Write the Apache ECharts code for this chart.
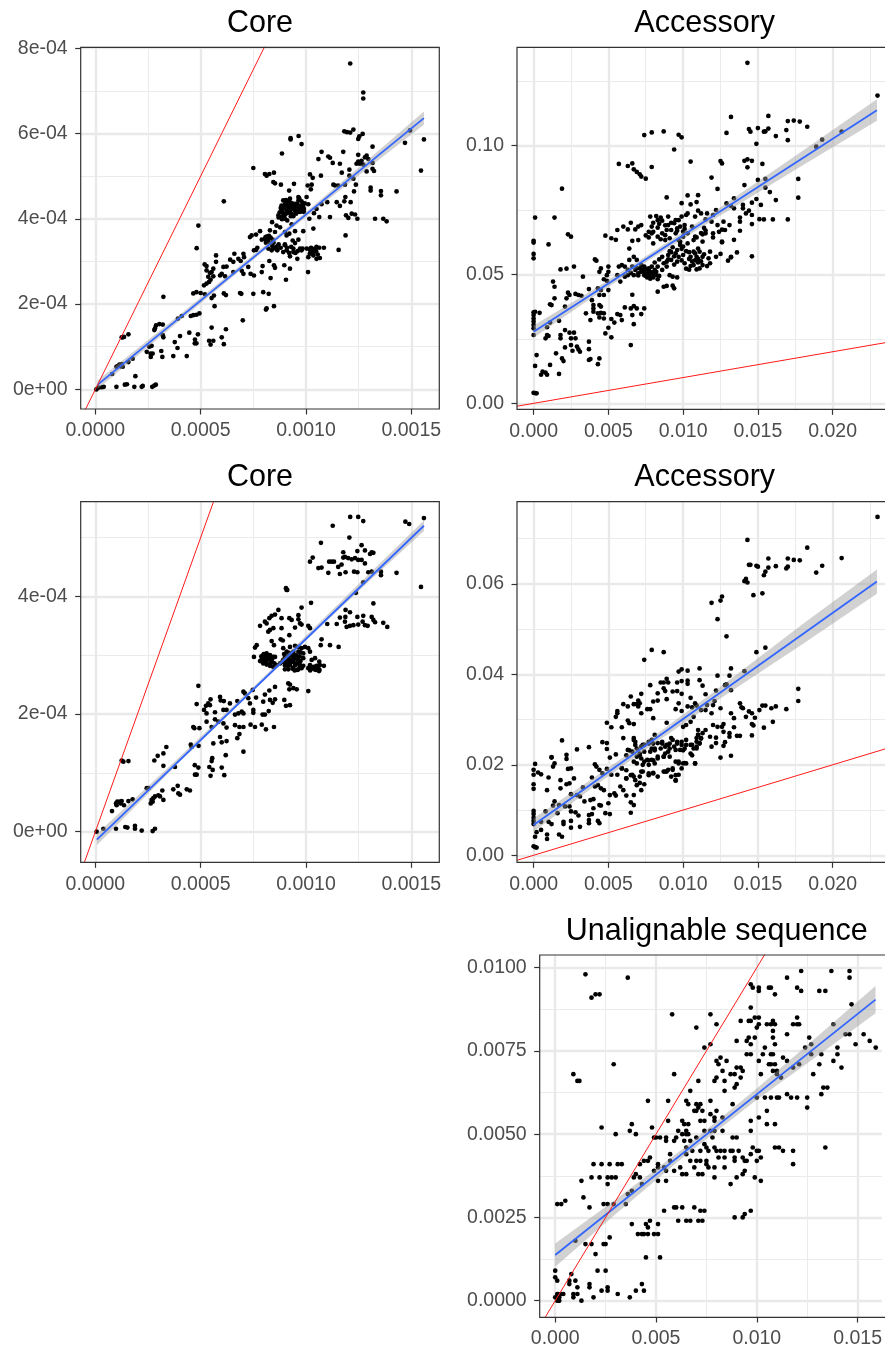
<!DOCTYPE html>
<html><head><meta charset="utf-8">
<style>html,body{margin:0;padding:0;background:#fff}#c{width:885px;height:1349px}</style>
<script src="https://cdn.jsdelivr.net/npm/echarts@6/dist/echarts.min.js"></script>
</head><body><div id="c"></div>
<script>
// Points in scaled units: core x,y in 1e-5; accessory in 1e-3; unalignable x in 1e-3, y in 1e-4
const corePointsA=[[121,76.4],[127.2,69.6],[127.2,68.2],[96.5,59.4],[92.7,58.9],[92.7,58.6],[97.9,57.5],[88.6,55.3],[75,51.9],[118.2,60.5],[119.5,60.3],[121,60.2],[122.5,60.9],[126.9,59.9],[125.3,59.3],[124.8,58.7],[131.6,56.9],[117.7,55.7],[107.4,55.7],[105.9,54],[110.6,54.6],[111.4,54.3],[112.7,53.1],[116.1,52.9],[120.6,51.5],[117,50.8],[107.1,50.1],[101.9,50.4],[103.2,49.6],[124.8,55],[128.8,54.8],
[.5,0],[1.5,.4],[3,.5],[4,.6],[10,.6],[14,1.1],[15,1.2],[18.5,.6],[19,3.1],[22,.6],[22.5,.8],[27,.6],[28,.9],[28.7,1.1],[8,3.6],[10,5.3],[10.5,5.4],[11.4,5.8],[12.5,5.9],[12,5.4],[13,5.3],[15.7,6.4],[17.7,7.2],[12.5,12.2],[13,12.2],[13.6,12.3],[15.7,12.9],
[24.4,8.8],[26.3,7.6],[27.2,8.4],[26.2,8.4],[25.6,10],[26.7,10.2],[31.3,9],[31.8,7.6],[37,7.8],[39,9.7],[37.7,11.1],[40.2,12.5],[44.6,13.3],[43.4,7.8],[47.3,11.7],[47.2,10.8],[48,10.8],[48.7,12.9],[28,13.9],[28.8,15],[28.3,14.3],[30.4,15.3],[32,15.2],[32.3,21.7],[32,12.7],[32.3,12.2],[39.2,16.6],[41,17.2],[45.3,17.2],[46.5,17.4],[48,17.5],[49.4,17.8],[54,11.4],[54.7,10.5],[56,11.4],[60,12.2],[61,10.6],[62,14.1],[55.2,14.5],[70,16.2],[56.6,19.5],[46.5,22.5],[48,22.8],[50,22.6],[52,22.3],[56.3,22],[55.2,21.4],[61,22.5],[62,22.1],[68.7,22.6],[69.3,22.4],[75,22.4],[79.7,22.8],[82.3,22.4],[81,18.7],[81.3,19],[84.8,19.5],
[51.6,24.4],[52.8,24.8],[54,25.2],[53.6,26.4],[52.8,27.9],[54.4,27.3],[51.9,29.3],[52.8,28.9],[55.2,27.5],[56,28.3],[57.3,29.9],[57.3,31.4],[59.2,26.7],[60,27.1],[60.8,28.7],[62.3,28.8],[61.6,26.5],[56,26.5],[54.7,25.7],[64,30.4],[66,31.8],[65.5,29.9],[67.9,30.6],[69,30.1],[70.3,31.8],[70.6,31],[69.5,27.8],[70.3,27.1],[65.5,27.5],[73.7,27.1],[75.3,26.7],[72.6,28.7],[79,27.5],[79.4,28.9],[84.8,29.1],[85.3,28.5],[83.2,26.1],[90.5,25.7],[89.7,29.1],[92.4,28.3],[101,27.5],[82.6,30.1],
[75.3,32.6],[76.3,32.7],[76.9,33.2],[73.4,35.7],[74.2,36.1],[76.3,36.3],[78.2,37.1],[48.9,38.4],[48.1,33.1],[61,44.1],[79,35.1],[80.5,35.3],[82.1,35.3],[83.2,35.6],[84.2,35.1],[81.3,34.9],[82.9,37.3],[83.9,39.2],[85.3,36.9],[84.5,33],[82.1,33],[86,33.4],[83.7,32.6],[86,38.4],[87.7,38],[86.4,32.6],[89.2,32.2],[90,33.8],[90.8,32.6],[92.4,31.2],[95.9,30.6],[94,32.2],[97.2,33],[98.4,33],[97.9,32.6],[101.1,31],[103.5,31.4],[105,30.6],[106.6,30.8],[101.9,32.7],[103.2,32.4],[104.3,33],[105,33.4],[106.3,33.2],[108.5,33.2],[115.5,32.7],[103.5,37.7],[90.8,36.1],[92.1,36.5],[90,36.9],[94.8,37.1],[98.7,37.1],[96.4,35.1],[93.7,34.9],[94.8,34.3],[93.2,38.7],
[89.2,44.3],[92,46.6],[90.5,44.4],[92.4,44.7],[94.8,43.5],[96.4,45.1],[96.4,44.3],[97.9,44.1],[94,43.1],[91.6,42.7],[92.4,41.9],[94.8,41.9],[96.4,42.3],[97.9,41.9],[99,42.3],[99,41.6],[90.8,41.9],[89.2,41.2],[86.9,40.8],[88.1,40.4],[90,40],[91.1,39.6],[88.4,43.1],[93.2,41.2],[97.2,41.6],[95.3,41.2],[101.1,43.4],[100.3,45.1],[100.8,47.8],[102.3,46.9],[102.7,48],[94.3,48.2],[88.1,48],[80.5,50.5],[82.6,50.5],[81.3,50.1],[84.8,50.8],[84.5,48.6],[85.3,48.3],
[113,48],[113.8,47.8],[118.5,48],[115.3,47.8],[122.5,49.4],[120.6,50.1],[123.7,48],[122.8,46.4],[118.7,45.1],[121.2,43.9],[118.2,44.1],[114.6,43.9],[116.1,43],[110.1,43.9],[107.4,43.4],[105,42.3],[103.8,41.3],[101.6,40],[106.3,40.4],[111.4,40.4],[119,40.8],[120.1,40.2],[121.7,41.2],[123.3,41],[124.4,40],[132.8,40],[136.7,40],[138.3,39.4],[118.8,36.1],[130.7,47.3],[130.7,46.6],[135.6,46.5],[135.6,45.5],[143,46.4],[147,57.8],[149.4,60.7],[156,58.6],[154.6,51.3],[124,52.9],[125.6,52.9],[127.2,52.7],[126.4,53.6],[128,54.4],[129.6,54],[131.6,53.1],[128.8,51.1],[131.6,51.7],[132.3,51.2],[124.8,53.4],
[87.5,41.5],[88,42.5],[88.8,41.8],[89.6,42.6],[90,43.4],[90.4,42.9],[91,43.9],[91.6,44.1],[92,43.4],[92.6,43.8],[93,42.8],[93.4,43.6],[93.6,42.4],[94.4,42.5],[95,42.9],[95.8,43.5],[96,41.6],[97,43],[97.6,42.6],[98.2,43.2],[98.6,42.9],[90.2,41],[91.4,41.4],[92.8,40.6],[87,40.3],[88.6,39.9],[89.6,40.7],[94,40.6],[96.8,44.8],[99.4,43.6],[80.8,35.7],[81.6,35.9],[82.4,36],[81,34.4],[82.2,34.6],[83.4,34.2],[84,33.6],[84.6,34.4],[85.4,33.2],[86.2,32.8],[87,34],[88,33.2],[90,34],[91,33.2],[92,32],[93,33.4],[94,33],[95,32],[96,32.4],[100.4,33],[102.4,33.2],[103.8,32.2],[104.8,32.4],[105.6,31.6],[101.8,31.8]];
const accessoryPointsA=[[14.3,132],[23,119.3],[13.2,111],[15.7,111.4],[17,109.4],[17.4,109.6],[17.8,109.2],[18.3,107.2],[16.9,105.9],[17,102],[14.4,106.3],[14.5,105.3],[15,106.7],[15.4,105.3],[15.5,105.4],[15.7,106.5],[16.2,103.6],[14.9,100.6],[12.9,104.8],[20.6,105.3],[19.3,102.2],[18.9,99.5],[7.4,104],[7.9,105],[8.7,105.4],[9.7,104.1],[9.9,103.1],[9.4,98.4],[10.5,93.7],[12.5,93.9],[12.6,93],[14.1,94],[14.3,94.6],[14.6,94],[14.3,91.5],[15.3,92.8],[15,86.6],[15.5,87],[11.9,87.5],[14.1,84.6],[12.3,83.1],[15.5,83.6],[15.8,81.9],[17.7,87],[17.7,79.7],[16.2,78.8],[14.9,79.2],[15.2,76.9],[14.6,77.8],[13.4,79.5],[12.9,77.5],[13.2,76.5],[14,76.9],[14,75.6],[13.4,75.6],[14.4,74.7],[14.2,73.6],[14.6,73],[15.1,71.4],[15.4,71.3],[16,71.3],[17,71.3],[14.6,69.5],[13.8,72],[13.8,70.4],[13.8,66.9],[13.4,63.4],[13.6,58.5],[14.6,57],[13.2,56.6],[13,55.3],[13.2,56.8],[12.5,57.9],[12.2,56.8],[12.6,62.7],
[5.7,92.8],[6.3,92],[6.6,93],[6.7,90.7],[6.9,89.7],[7.1,88.8],[7.2,87.9],[7.5,87.1],[7.9,91.6],[8.9,79.8],[9.9,77.6],[10.3,80.6],[11,80.7],[10.5,77.1],[10.9,78],[10.3,73.6],[11,74.7],[11.2,73.6],[10.8,72.4],[11.6,73.6],[12.2,74.9],[12,73],[11.5,71.3],[11.9,70.4],[12.3,69.1],[12.7,70.4],[13.1,69.1],[12.8,67.2],[12,65.9],[12.6,62.4],[11.5,65.9],[10.8,64.6],
[1.9,83.2],[1.4,72],[.1,72],[1,61.6],[2.3,65.5],[2.5,64.6],[0,63],[0,62.3],[0,57.9],[0,56.2],[1.8,51.9],[2.2,52.2],[2.7,53],[3.3,49.1],[1.3,47.2],[1.4,45.2],[1.4,40.7],[1.1,38.4],[1.2,38.1],[2.3,42.9],[2.4,42],[2.8,42.4],[3,42],[3.2,41.7],[2.2,40.7],[2.1,37.5],[3.7,44.3],[3.9,40],[4.1,55.8],[4.2,55.3],[4.8,65],[5.2,64],[5.5,63.4],[5.6,67.2],[6,68.5],[6.5,70],[6.3,67.4],[6.8,67.4],[7,68.5],[7.2,69.1],[6.6,63],[7,63.3],[6.4,60],[7.8,72.4],[8.2,72.6],[8.5,72],[8.3,71],[8.6,70.8],[9,72.4],[9.4,69.8],[9,69.1],[9.7,71],[9.9,72.4],[10.2,73],[7.9,68.5],[8.3,68.1],[7.7,66.5],[7.9,65.9],[8.6,65.9],[8.9,67.2],[9.2,67.2],[9.6,67.8],[9.8,68.5],[10.1,69.1],[10.6,68.5],[7.7,64.3],[8,62],[8.5,63.6],[8.8,63.3],[9.1,64],[9.5,65.9],[9.7,63.3],[10,64.6],[10.3,65.9],[10.7,63.3],[10.9,64.3],[9.8,61.4],[9.6,59.4],[10.3,62],[11,60],[11.3,62.7],[11.8,58.8],[11.3,56.8],[11.7,56.2],[11.8,54.3],[11.1,58.8],[10.8,58.1],[10.9,56.8],[10.5,56.8],[10,57.5],[9.7,56.8],[9.5,58.1],[9,57.5],[8.6,56.8],[8.9,54.9],[9.2,55.6],[9.6,54.9],[10.1,54.3],[10.5,53.2],[10.7,53.6],[10.9,51.9],[11.1,52.3],[11.3,53.6],
[7.2,53.6],[7.4,53],[7.7,52.3],[7.9,53],[8.1,51.7],[7.8,51],[7.2,51],[7.4,49.7],[7.7,49.1],[8,49.7],[8.2,51],[8.3,48.1],[7,50.4],[6.8,51.7],[6.4,55.6],[6.7,56.8],[6.9,55.6],[6.6,53],[6.3,51.7],[6.1,49.1],[6.3,49.7],[6.7,49.7],[5.7,53],[5.9,53.6],[6.1,53],[5.6,49.7],[5.8,47.2],[5,53],[4.5,52.3],[4.4,51],[5,51],[4.9,49.7],[4.7,48.1],[4.9,47.5],[4.3,44.6],[4.5,43.9],[5,43.9],[4.4,42],[4.7,42],[8.7,54.3],[8.9,53],[8.3,53],[8.6,51.7],[9.1,49.7],[9.3,49.1],[9.6,48.8],[8.7,45.2],[8.9,45.5],[9.3,45.6],[9.4,44.6],[8.3,43.3],[6.6,42.1],
[4,38.1],[4,36.8],[4.4,38.1],[4.5,37.5],[3.5,34.9],[4,35.5],[3.8,32.3],[4.3,34.9],[4.5,35.1],[4.7,34.9],[4.4,33.3],[4.7,32.9],[5.2,32.7],[5.4,31.3],[5.6,34.6],[5.8,34.2],[5.9,32.3],[6.1,37.2],[6.5,36.8],[6.7,37.7],[6.9,36.8],[7.4,36.8],[7.2,34.6],[6.6,34.2],[6.7,30.7],[5,29.3],[4.8,27.1],[5.2,25.6],[6.5,22.6],
[0,35.3],[0,34.2],[0,32.9],[0,31.7],[0,30.4],[0,29.1],[.1,35.5],[.4,35.1],[0,26.5],[1.1,31.3],[1.7,32],[.9,29.5],[.8,25.2],[.9,26.5],[1,26.1],[1.8,26.5],[1.8,25.2],[2.1,28.4],[2.4,27.4],[2.7,27.4],[2.5,25.2],[2.8,25.2],[3.7,23.9],[2.5,22.6],[2.1,21.7],[2.9,22],[3,20.9],[3.1,20],[2.6,20.4],[3.7,21],[1.5,19.4],[.2,18.7],[1.9,17.4],[2,16.4],[3.8,17.2],[3.7,16.8],[4.4,17.4],[4.3,15.2],[1.1,14.9],[.1,14.5],[.6,12.3],[.5,11.1],[.8,11.9],[.9,11.1],[1.7,11.4],[0,4.1],[.1,4],[.2,3.9],
[7.1,52.3],[7.3,51.8],[7.4,50.8],[7.5,52],[7.6,50.4],[7.7,51.4],[7.8,50.2],[7.9,50.8],[8,49.4],[8.1,50.4],[8.2,49.8],[8.4,49.4],[7.5,49.4],[7.6,48.8],[6.9,52.4],[7,49.6],[6.5,50.6],[8,48.8],[7.8,48.3],[9.1,59],[9.3,60.5],[9.4,57],[9.9,59.9],[10,60.8],[10.2,59],[10.4,58.6],[10.4,56],[9,55.8],[9.4,53.8],[9.9,55.4],[10.7,58.8],[10.8,55.4],[11,56],[11.2,55],[11.4,57.8],[11,54.6],[11.6,53.2],[10.6,55],[8.1,54.6],[8.4,55.8],[10.2,52.2],[10.4,51.8],[9.2,58.6],[9.8,62.6],[10,66.6],[10.1,67.6],[9.6,66.9],[9.2,70],[9.5,71],[8,70],[8.4,69.6],[8.8,69],[7.5,65.1],[8,66.5],[8.3,64.6],[8.8,65.2],[11.4,68],[11.2,66],[11.5,67],[12.4,66.5],[12.6,67.3],[12,64.3],[11.3,65.5]];
const corePointsB=[[121,53.5],[124.8,53.5],[127.2,52.8],[147.2,52.7],[149,52.3],[156,53.3],[112.7,52],[120.6,50],[107.1,49.1],[126.4,48.7],[154.6,41.6],[117.7,47.5],[124.4,47.7],[128,47.8],[131.2,47.5],[132,47.4],[130.4,47.2],[103.2,46.6],[101.9,45.9],[111,45.9],[112.2,45.9],[113.3,45.9],[117.7,46.6],[118.5,46.7],[120,46.5],[121.7,46.3],[123.3,46.5],[124.8,46.2],[126.4,46.2],[128,45.6],[116.9,45.4],[115.3,45],[105.9,44.8],[107.4,44.9],[110.6,44],[116.1,43.8],[118.8,44.1],[122.8,44.2],[124.4,44.1],[129.6,44.1],[131.2,44.2],[135.6,44.2],[135.6,43.6],[143,44],[127.2,42.4],[123.7,40.6],[90.5,41.4],[90.8,41.1],[91.1,41.1],
[118.8,37.7],[120.9,37.3],[116.1,36.4],[118.7,36.5],[124.4,36.5],[127.2,36.7],[132,38.8],[131.2,36.5],[132,36],[132.8,35.6],[136.7,35.5],[138.6,34.8],[110.1,35.3],[114.6,35.3],[118.5,35.7],[119.3,34.8],[120.9,35],[122.5,35.1],[124.8,35.2],[126.9,35.7],[128,35.1],[129.3,35],
[102.4,38.9],[97.9,38.1],[86.9,37.7],[85.3,36.9],[83.7,36.7],[82.6,36.3],[80.5,35.7],[81.3,35.4],[78.2,35],[88.4,36.3],[92.1,36.3],[93.2,36],[96.4,36.8],[96.4,36.1],[97.2,35.4],[97.9,35.2],[94.8,34.7],[88.4,34.6],[84.5,34.6],[82.9,34.3],[82.1,34],[101.1,35],[101.9,34.6],[92.1,33.4],[107.4,32.7],[88,32.7],[89,32.5],[83.7,32.4],[84.8,31.7],[107,31.7],[111.4,31.7],[115.5,31.4],[76.6,31.7],[75.8,31.3],[75.3,29.7],
[79.7,30],[81.3,30.3],[82.9,30],[84.5,29.7],[79,29.3],[80.5,29.2],[82.1,29.3],[83.7,29],[85.3,29.7],[78.2,29],[79.7,28.6],[81.3,28.4],[82.9,28.2],[84.5,28],[86.1,28.3],[89.2,31.2],[90.8,30.6],[92.4,31.4],[94.8,31.6],[96.4,31.4],[97.9,31.2],[99.5,31.4],[101.1,31.2],[94,30.6],[96.4,30.6],[98.7,30.3],[92.4,30],[90,29.7],[94,29.7],[96.4,29.7],[98.7,29.5],[89.2,29.2],[91.6,28.9],[94,28.9],[96.4,28.9],[87.7,28.6],[90,28.3],[92.4,28.3],[94.8,28.3],[97.2,28.3],[98.7,28.2],[90,27.6],[91.6,27.6],[94,27.8],[95.9,27.5],[97.9,27.8],[101.9,28.3],[103.5,28],[105,28.2],[101.9,30.6],[104.3,29.5],[102.7,29.2],[106.3,28.9],[108.5,28.2],[106.6,28.3],[104.8,27.5],[105.9,27.5],[103.5,27.8],[101.1,27.8],
[91.6,25.2],[92.4,25],[92.1,24.2],[94,24.4],[95.6,24.2],[101.1,23.9],[89.7,22.4],[90.5,21.4],[92.4,21.5],
[48.9,24.8],[48.1,21.7],[54.7,22.5],[53.6,21.8],[52.5,21.4],[51.6,20.7],[52.8,20.1],[54.4,21.5],[56.8,20.3],[59.2,22.9],[59.5,22.3],[61,22.2],[63.9,21.8],[67.4,22.2],[70.3,23.8],[71,23.5],[72.6,22.7],[74.7,24.1],[76.3,22.8],[73.4,21.8],[79.7,22.1],[82.9,22.4],[82.6,24],[80.5,23.3],[85.3,24.6],[85.3,22.5],[84.2,21.9],[75,20.7],[75,20.2],[79.4,19.9],[82.3,20.5],[80.5,19.9],[73.7,18.2],[75.8,17.8],[79,18.2],[81,17.4],[84.8,17.8],[60.8,20.7],[62.3,20.7],[66.3,19.9],[67.9,20.1],[69.5,20.4],[70.3,20.1],[66.3,18.1],[68.4,17.8],[70.3,17.8],[67.4,15.9],[68.4,16.6],[70.3,13.6],
[52.8,18.7],[55.2,17.8],[56.8,19.1],[58.4,18.7],[60.8,18.4],[62.3,17.7],[46.5,17.8],[47,17.6],[49.4,17.6],[56,15],[59.2,16.1],[60,15.2],[62.3,15.4],[45.3,14.8],[45.7,14.4],[49,14.6],[61.9,13],[55.5,12.5],[55.2,12],[54.1,11],[55.7,10.5],[54.7,9.5],[60,10.9],[61.2,9.6],[47.2,11.3],[48.9,10.9],[47.3,9.7],[48.1,9.7],[33.7,14.4],[32.3,13.3],[29.6,12.9],[28,12.1],[32.3,11.2],[37.8,11],[12.5,12.1],[13.3,11.9],[15.7,12],
[24.4,7.4],[25.2,7.4],[31.8,7],[30.7,6],[29.9,6.2],[32.3,5.4],[27.5,5.7],[28.3,6],[26.7,5.4],[26.3,4.8],[27.2,5.1],[37,7.2],[39.1,7.8],[39.4,6.5],[40.2,6.3],[43.4,7.2],[44.9,7],[7.9,3.5],[9.8,4.8],[10.4,5.1],[11.7,5.1],[12.5,5.2],[13.6,4.5],[10.1,4.5],[12,4.8],[15.7,5.2],[17.7,5.5],[.6,0],[3.8,.5],[9.8,.5],[14.2,.8],[15.2,.7],[18.8,1],[18.8,.5],[22,.2],[27.2,.1],[28.3,.5],
[79.5,29.8],[80,30.2],[80.8,29.6],[81.6,29.9],[82.4,29.6],[83,28.6],[81,28.9],[79.6,29],[78.8,29.8],[84,29.4],[83.2,29.8],[85,28.6],[88.8,28.9],[89.6,30.2],[90.4,29.1],[91,29.8],[91.8,29.4],[92,30.4],[92.8,29.2],[93.4,30.2],[93,28.8],[94.4,29.4],[95.2,30],[95.4,28.6],[96,29.3],[97,29.8],[97.4,29],[97.4,30.5],[90.6,28.6],[91.4,28.2],[93.6,27.7],[94.6,27.4],[96.4,27.6],[97,28],[102.4,28],[103,27.9],[104,27.6],[104.6,28],[105.4,27.8],[106,28.2],[106.4,27.5],[106.2,27.3],[102,27.4]];
const accessoryPointsB=[[23,74.8],[14.3,69.7],[18.3,68],[20.6,65.7],[15.7,65.6],[17,65.6],[17.4,65.3],[17.8,65.2],[19.3,64],[18.9,62.5],[14.4,64.2],[14.5,64.2],[14.9,64],[15,63.8],[15.7,63.6],[16.2,63.9],[16.9,63.4],[17,63.8],[15.5,62.7],[15.4,61.9],[14.1,60.6],[14.2,61.1],[14.3,60.3],[14.7,57.5],[15.3,57.9],[11.9,55.8],[12.5,56.3],[12.6,57.2],[12.3,52.2],[12.9,48.4],[15.5,45.9],[14.9,44.9],[7.4,43.2],[7.9,45.4],[8.7,44.9],
[9.7,40.6],[9.9,41.1],[10.3,40.8],[11.1,41.3],[13.2,41.3],[14.1,40.7],[12.3,39.7],[13.1,39.7],[11.1,38.7],[11.3,37.5],[10.3,38.6],[10.3,37.9],[9.9,38.5],[9.6,38.2],[9,38.2],[8.9,39],[8.5,38.2],[8.7,38.2],[7.8,37.6],[8.3,35.8],[8.7,36.9],[8.8,36.3],[9.3,36.2],[9.6,36.3],[9.9,35.7],[10.5,34.8],[11.5,35.6],[12.2,36.4],[12.8,37.6],[12.9,37.8],[13.2,36.5],[12.1,34.1],[17.7,36.8],[17.7,34.1],
[6.5,35.1],[7.2,35.7],[6,33.4],[5.6,31.9],[5.6,31.4],[6.3,32.9],[6.7,33.4],[6.9,33.4],[7,34.2],[7.1,33.6],[7,32.9],[7.6,32.3],[7.8,32.3],[8,34],[8.3,34.2],[7.2,31.4],[8.9,34.5],[9.5,32.3],[9.7,33.6],[9.9,31.9],[10.3,32.9],[10.6,32.7],[10.8,33.6],[10.9,33.1],[11.2,32.1],[11.5,32.1],[11.6,33.2],[12,33.2],[12.5,32.5],[11.9,31.4],[10.7,30.6],[10.5,29.5],[10.2,28.8],[10,28.4],[8,30.3],[8.9,29.3],[5.5,30.6],[4.9,29.3],[5.2,28.3],[5.9,28.3],[6.3,29.8],[6.4,29.2],[6.7,29],[6,25.9],
[13.8,33.6],[13.9,32.7],[14,32.5],[14.4,31.8],[14.6,31.4],[14.2,30.6],[14.8,30.4],[15.1,32.1],[15.3,33.1],[15.5,33.1],[15.9,32.5],[16.2,32.9],[16.9,32.3],[16,29.5],[15.4,28.2],[13.2,31.4],[13.4,30.3],[14.6,29],[14.7,28.7],[14.6,26.5],[13.4,28.3],[13.1,27],[13.1,26.2],[13.6,26.4],[13.8,26.4],[12,28.8],[12.3,28.4],[12.6,28.4],[12.7,29],[12.7,27.3],[12.8,25],[12.7,24.2],[12.5,21.6],[13.2,22],[12.2,24.8],[12.2,26],[11.9,24],[11.8,26.2],[11.5,27.7],[11.3,27],[11,27.7],[11,26.6],[10.9,25.9],[11.2,25.9],[11.1,24.8],[10.9,24],[10.7,23.6],[10.5,24.4],[10.8,20.3],[10.5,22.5],[10.2,20.3],[10,20.3],[9.9,19.2],
[6.7,25.9],[6.8,25.1],[6.3,23.3],[6.6,22.9],[6.9,23.6],[7.2,24],[7.4,24.4],[7.7,25.1],[7.9,25.5],[8.1,26.6],[8.3,24.8],[8.6,25.1],[8.8,24],[9,24.4],[9.2,25.9],[9.6,25.1],[9.9,25.1],[10.2,25.5],[9.5,23.3],[9.8,23.3],[10.1,23.6],[9.1,23.6],[8.8,22.5],[8.5,23.6],[8.1,23.6],[7.8,22.9],[7.4,22.9],[7.1,22.5],[6.9,21.8],[7.2,21.4],[7.6,21.1],[7.9,21.1],[8.3,21.8],[8.7,21.8],[9.1,21.8],[9.5,20.7],[9.7,20.3],[6.7,20.7],[6.9,20.3],[7.3,20],[7.7,20],[8.1,20.3],[8.8,18.5],[9,18.9],[9.3,18.9],[9.7,17.8],[9.2,17.4],[9.5,16.5],[8.3,17.4],[8,18.1],[7.7,18.1],[7.3,18.5],[7.1,17.4],[6.7,17.4],[6.9,15.5],[7.4,15.7],[7.2,14.4],
[1.9,25.4],[3.7,23.9],[2.9,23.4],[4.6,25],[4.9,24.8],[4.9,23.5],[5.1,21.6],[5.5,22.3],[.1,20.2],[1.2,21.7],[1.2,21.6],[1.4,20.3],[1.3,19.6],[2.2,22.2],[2.2,21.3],[2.3,19.1],[2.5,19.2],[0,18.9],[0,17.8],[.3,18.3],[.5,17.9],[1,17.2],[1.8,16.6],[2.7,17],[2.2,15.7],[2.4,15.9],[1.8,14.8],[.9,14.4],[0,15.7],[0,14.7],[3.3,15],[3.9,17.2],[4.1,20.1],[4.2,19.6],[4.4,18.9],[4.9,19.1],[4.6,18.1],[4.3,15.5],[4.1,15.2],[4.5,14.8],[4.7,14.4],[5.2,17.8],[5.6,17.8],[5.9,19.2],[5.8,15.2],[6,14.4],[6.2,17],[6.6,17.8],[5.4,13.7],[5.5,13.2],[5.1,13.3],[6.2,13.2],[6.7,13.3],[6.5,11.7],[6.7,11.1],[6.5,9.4],
[2.5,13.5],[3.1,13],[2.9,13.3],[3.4,11.9],[3.8,12.2],[4,12.4],[4,10.4],[4.4,11.1],[4.5,11],[5,11.5],[4.8,9.3],[5.1,9.1],[3.9,9.1],[3.7,8.9],[3.7,7.8],[3.7,7.1],[4.3,7.6],[4.4,7.1],[1.4,11.9],[1.3,11],[1.7,11.1],[1.6,9.3],[2.1,10.8],[2.4,10.8],[2.5,9.7],[2.8,9.5],[3,8.8],[2.5,7.6],[2,7.4],[2,6.9],[2.5,6.1],[3.1,6.3],[.8,9.7],[0,9.8],[0,9.1],[0,8.3],[0,7.6],[0,6.9],[.5,7.4],[1,7.4],[1.2,6.9],[.9,4.6],[.9,3.6],[.5,5.6],[.1,4.1],[.2,5.1],[1.7,4.6],[1.9,4.1],[0,2],[.1,1.8],[.2,1.7],
[6.7,25.5],[6.8,24.4],[6.4,23.2],[6.2,22.1],[7.1,22.1],[7.3,24.4],[7.7,24.7],[8,24.7],[8.1,23.2],[7.9,23.6],[8.6,24.7],[8.9,24.4],[9.1,24.7],[9.3,25.5],[9.6,24.7],[9,22.9],[9.4,24],[9.9,24.4],[10,23.2],[10.2,24.4],[10.6,24.4],[10.6,22.1],[10.9,23.6],[11.1,24.7],[10.9,25.1],[11.2,25.8],[11,26.6],[8,21],[7.7,21],[8.3,21.4],[8.7,21.8],[7.4,20.7],[9.7,20.7],[10.1,20.4],[10.8,20.3],[7.2,18.5],[7.7,17.7],[8,18.2],[8.7,18.5],[8.9,18.5],[9.3,19.2],[9.5,17.7],[6.2,17],[6.8,16.6],[5.9,19.2],[6.2,18.8],[9.5,16.6],[7.1,16],[6.5,17.7]];
const unalignablePoints=[[1.5,98],[3.6,97],[1.8,91],[2,92],[2.2,92],[5.8,86],[7.7,86],[7,82],[8,83],[2.9,71],[.9,68],[1.1,66],[1.2,66],[5.9,68],[7.1,66],[6.7,63],[4.6,60],[5.6,60],[2.3,52],[3,50],[3.8,53],[3.7,51],[4,50],[4.8,52],[4.9,49],[5,49],[5.6,54],[5.2,49],[5.5,49],[5.5,48],[5.9,48],[6,49],
[6.5,60],[6.6,59],[7,59],[7.2,59],[7.1,58],[6.9,57],[7,57],[7.3,57],[7.7,60],[7.7,56],[8,57],[7.9,55],[8.3,55],[7.9,54],[7.2,54],[7.4,54],[6.3,54],[6.4,53],[6.6,53],[6.1,51],[6.5,51],[6.5,50],[6.3,50],[6.6,50],[6.4,48],[6.7,48],[7,49],[7.4,51],[7.7,51],[7.9,51],[8.3,51],[7.8,49],
[8.8,59],[7.9,66],[8,67],[8.4,66],[8.7,68],[8.9,68],[8.4,63],[8.9,64],[9,65],[9.2,67],[9,70],[9.2,70],[9.3,69],[8.3,69],[8,72],[8.2,73],[8.5,72],[8.1,71],[7.7,77],[7.4,76],[9,78],[9.5,78],[9.6,79],[9.9,79],[9.7,77],[9.5,74],[9.7,74],[10.1,72],[10.3,74],[10.4,76],[10.7,74],[10.8,74],[10.6,71],[10.7,71],[10.9,71],[10.8,69],[11,69],[11,68],[11.2,67],[10.2,68],[10,61],[10.4,61],[10.7,61],[11,61],[11.1,61],[11.5,62],[11.7,61],[12,61],[12.5,61],[12.5,58],[13.2,62],[13.3,64],[13.5,64],[12.8,68],[13.1,71],[13.2,74],[12.7,74],[12.4,76],[12.7,77],[12.6,79],[12.1,71],[11.8,70],[11.5,72],[11.3,73],[13.8,83],[14,76],[14,74],[13.8,72],[14.2,70],[14.4,80],[14.6,80],[14.9,77],[15.3,80],[15.6,78],[15.9,76],[14.7,89],[14.6,97],[14.6,99],[13.7,99],[13.4,93],[13.1,93],[12.2,99],[11.5,97],[12,94],[12.2,93],[10.9,92],[10.6,94],[10.7,94],[10.1,94],[10.1,93],[9.7,95],[9.8,94],[9.7,88],[9.2,84],[9.6,84],[9.7,84],[9.9,85],[10.1,85],[10,82],[10.1,83],[10.5,83],[10.7,83],[10.8,84],[10.9,83],[10.8,81],[10.8,79],[10.9,77],[11.5,80],[11.8,83],[12,85],[12,83],[12.1,83],
[13.4,46],[11.8,45],[11.8,41],[10.9,53],[10.5,53],[10.5,57],[10.1,55],[9.7,54],[9.7,51],[10.9,46],[11.1,46],[11.3,45],[10.1,45],[10.2,43],[10.2,36],[9.9,37],[8.8,49],[9,49],[7.9,46],[8,45],[8.2,45],[8.4,45],[8.7,45],[8.8,45],[9.1,45],[8.9,43],[8.1,43],[8.4,43],[9.3,43],[9.4,42],[9.5,42],[9.7,44],[9.8,46],[10,45],[10,42],[8.9,42],[7.5,46],[7.4,47],[7.6,45],[7.2,45],[6.8,45],[6.5,46],[6.5,44],[6.7,42],[7,42],[7.2,42],[7.5,42],[7.5,41],[7.6,40],[7.9,40],[6.9,40],[7.1,38],[7.3,38],[6.3,38],[6.5,38],[6.2,40],[5.9,39],[5.7,42],[5.7,44],[5.4,40],[5.5,39],[5.1,41],[5.1,40],[4.9,39],[5.1,36],[5.5,36],[7.9,37],[8.4,40],[8.7,35],[9,37],[9.3,38],[9.4,39],
[4.7,43],[4.6,42],[4.4,42],[4.2,41],[4,38],[3.9,37],[4.2,37],[4.3,35],[3.8,33],[3.6,32],[3.5,29],[1.9,41],[2.3,41],[2.7,41],[3.1,41],[3.3,41],[1.3,36],[1.8,37],[2.2,37],[2.6,37],[2.8,37],[3,37],[2.6,35],[1.4,31],[1.7,28],[2.4,29],[2.6,29],[2.9,29],[.1,29],[.3,29],[.5,30],
[5.4,27],[5.9,28],[6,28],[6.3,28],[6.9,28],[7.2,27],[7.4,27],[6.1,24],[6.5,24],[6.7,24],[7.1,24],[7.3,24],[8.9,25],[9.3,25],[9.4,26],[9.7,27],[3.8,23],[4.5,23],[4.7,24],[4.6,22],[5.1,23],[4.1,20],[4.3,20],[4.4,20],[4.6,20],[4.9,20],[5.1,20],[4.5,13],[5.2,13],[2.7,19],[1,18],[1.5,17],[1.8,17],[2.4,17],[2.5,17],[2,14],
[0,9],[2.1,9],[2.5,9],[0,7],[.1,6],[.8,8],[.7,6],[1,6],[.7,5],[1.1,4],[1.7,5],[1.7,4],[2.3,3],[2.6,4],[2.6,3],[3.1,2],[4.3,5],[4,3],[4.4,3],[3.7,1],[1.9,1],[1.3,0],[.1,2],[.15,2],[.2,1],[.3,2],[.4,2],[.1,0],[.15,0],[.2,0],[0,1],[.9,2],[.9,1],[1.1,2]];

// Fit lines and confidence bands (same scaled units)
const fitCoreA=[[1,1.06],[156,63.6]];
const bandCoreA={x:[1,40,80,100,130,156],lo:[.06,16.1,32.45,40.4,52.1,62.05],hi:[2.06,17.5,33.55,41.6,54.1,65.15]};
const fitAccessoryA=[[0,27.8],[22.96,113.6]];
const bandAccessoryA={x:[0,4,8,12,18,22.96],lo:[25.4,41.3,56.55,71.1,92.3,109.5],hi:[30.2,44.1,58.85,74.1,97.9,117.9]};
const fitCoreB=[[.7,-1.35],[156,52]];
const bandCoreB={x:[.7,40,80,100,130,156],lo:[-2.3,11.85,25.65,32.5,42.55,51.1],hi:[-.4,12.75,26.35,33.3,43.85,52.9]};
const fitAccessoryB=[[0,6.7],[22.96,60.5]];
const bandAccessoryB={x:[0,4,8,12,18,22.96],lo:[5.2,15.1,24.55,33.6,46.7,57.8],hi:[8.2,17.1,26.25,36,51.1,63.2]};
const fitUnalignable=[[0,13.7],[15.89,90.4]];
const bandUnalignable={x:[0,3,6.5,10,13,15.89],lo:[10.2,26,43.8,60.3,73.5,86.3],hi:[17.2,30.4,46.4,63.7,79.3,94.5]};

// Tick labels
const coreXTicks=[0,.0005,.001,.0015], coreXLabels=['0.0000','0.0005','0.0010','0.0015'];
const coreAYTicks=[0,2e-4,4e-4,6e-4,8e-4], coreAYLabels=['0e+00','2e-04','4e-04','6e-04','8e-04'];
const coreBYTicks=[0,2e-4,4e-4], coreBYLabels=['0e+00','2e-04','4e-04'];
const accXTicks=[0,.005,.01,.015,.02], accXLabels=['0.000','0.005','0.010','0.015','0.020'];
const accAYTicks=[0,.05,.1], accAYLabels=['0.00','0.05','0.10'];
const accBYTicks=[0,.02,.04,.06], accBYLabels=['0.00','0.02','0.04','0.06'];
const unXTicks=[0,.005,.01,.015], unXLabels=['0.000','0.005','0.010','0.015'];
const unYTicks=[0,.0025,.005,.0075,.01], unYLabels=['0.0000','0.0025','0.0050','0.0075','0.0100'];

const panels=[
 {title:'Core',pts:corePointsA,fit:fitCoreA,band:bandCoreA,sx:1e-5,sy:1e-5,xt:coreXTicks,xl:coreXLabels,yt:coreAYTicks,yl:coreAYLabels,
  xr:[-.0000696,.001633],yr:[-.000046,.000802],box:[80.7,47.3,358.6,361.7],tx:260,ty:8,xm:[.00025,.00075,.00125],ym:[1e-4,3e-4,5e-4,7e-4]},
 {title:'Accessory',pts:accessoryPointsA,fit:fitAccessoryA,band:bandAccessoryA,sx:1e-3,sy:1e-3,xt:accXTicks,xl:accXLabels,yt:accAYTicks,yl:accAYLabels,
  xr:[-.00111,.0235],yr:[-.0023,.138],box:[517,47.3,368,362],bleed:10,tx:704.7,ty:8,xm:[.0025,.0075,.0125,.0175,.0225],ym:[.025,.075,.125]},
 {title:'Core',pts:corePointsB,fit:fitCoreB,band:bandCoreB,sx:1e-5,sy:1e-5,xt:coreXTicks,xl:coreXLabels,yt:coreBYTicks,yl:coreBYLabels,
  xr:[-.0000696,.001633],yr:[-.000052,.0005609],box:[80.7,501.7,358.6,360.6],tx:260,ty:462,xm:[.00025,.00075,.00125],ym:[1e-4,3e-4,5e-4]},
 {title:'Accessory',pts:accessoryPointsB,fit:fitAccessoryB,band:bandAccessoryB,sx:1e-3,sy:1e-3,xt:accXTicks,xl:accXLabels,yt:accBYTicks,yl:accBYLabels,
  xr:[-.00111,.0235],yr:[-.00155,.07816],box:[517,501.7,368,360.6],bleed:10,tx:704.7,ty:462,xm:[.0025,.0075,.0125,.0175,.0225],ym:[.01,.03,.05,.07]},
 {title:'Unalignable sequence',pts:unalignablePoints,fit:fitUnalignable,band:bandUnalignable,sx:1e-3,sy:1e-4,xt:unXTicks,xl:unXLabels,yt:unYTicks,yl:unYLabels,
  xr:[-.00077,.01621],yr:[-.00049,.01038],box:[539.7,955,345.3,362.3],bleed:10,tx:716.7,ty:916,xm:[.0025,.0075,.0125],ym:[.00125,.00375,.00625,.00875]}
];

const FONT='"Liberation Sans", Arial, sans-serif';
const opt={animation:false,backgroundColor:'#fff',title:[],grid:[],xAxis:[],yAxis:[],series:[],graphic:{elements:[]}};
function minorAxis(i,pos,r,vals){return {gridIndex:i,type:'value',position:pos,min:r[0],max:r[1],silent:true,
  axisLine:{show:false},axisLabel:{show:false},axisTick:{show:false,customValues:vals},
  splitLine:{show:true,lineStyle:{color:'#EBEBEB',width:1}}};}
function majorAxis(i,pos,r,vals,labs,margin,pad){return {gridIndex:i,type:'value',position:pos,min:r[0],max:r[1],silent:true,
  axisLine:{show:false,onZero:false},
  axisTick:{show:true,length:5.5,customValues:vals,lineStyle:{color:'#333333',width:1.2}},
  axisLabel:{show:true,customValues:vals,margin:margin,padding:pad,color:'#4D4D4D',fontSize:19.5,fontFamily:FONT,
    formatter:(v)=>{let k=0,b=Infinity;vals.forEach((t,j)=>{const d=Math.abs(t-v);if(d<b){b=d;k=j;}});return labs[k];}},
  splitLine:{show:true,lineStyle:{color:'#E9E9E9',width:2.4}}};}
panels.forEach((p,i)=>{
  opt.title.push({text:p.title,left:p.tx,top:p.ty,padding:0,textAlign:'center',textStyle:{fontFamily:FONT,fontSize:30.5,fontWeight:'normal',color:'#000'}});
  opt.grid.push({left:p.box[0],top:p.box[1],width:p.box[2],height:p.box[3],show:false,containLabel:false});
  opt.graphic.elements.push({type:'rect',silent:true,z:100,shape:{x:p.box[0],y:p.box[1],width:p.box[2]+(p.bleed||0),height:p.box[3]},
    style:{fill:'transparent',stroke:'#333333',lineWidth:1.2}});
  const xM=2*i+1;
  opt.xAxis.push(minorAxis(i,'bottom',p.xr,p.xm),majorAxis(i,'bottom',p.xr,p.xt,p.xl,12,0));
  opt.yAxis.push(minorAxis(i,'left',p.yr,p.ym),majorAxis(i,'left',p.yr,p.yt,p.yl,13,[2,0,0,0]));
  const bx=p.band.x.map(v=>v*p.sx),blo=p.band.lo.map(v=>v*p.sy),bhi=p.band.hi.map(v=>v*p.sy);
  opt.series.push({type:'scatter',xAxisIndex:xM,yAxisIndex:xM,symbolSize:4.7,silent:true,clip:true,
    itemStyle:{color:'#000',opacity:1},data:p.pts.map(d=>[d[0]*p.sx,d[1]*p.sy])});
  opt.series.push({type:'custom',xAxisIndex:xM,yAxisIndex:xM,silent:true,clip:true,z:3,
    data:bx.map((x,j)=>[x,blo[j],bhi[j]]),encode:{x:0,y:[1,2]},
    renderItem:(params,api)=>{
      if(params.dataIndex!==0) return null;
      const up=bx.map((x,j)=>api.coord([x,bhi[j]])),dn=bx.map((x,j)=>api.coord([x,blo[j]])).reverse();
      return {type:'polygon',shape:{points:up.concat(dn)},style:{fill:'#999999',opacity:.45}};
    }});
  opt.series.push({type:'line',xAxisIndex:xM,yAxisIndex:xM,z:4,symbol:'none',silent:true,
    lineStyle:{color:'#3366FF',width:1.8},data:p.fit.map(d=>[d[0]*p.sx,d[1]*p.sy])});
  opt.series.push({type:'line',xAxisIndex:xM,yAxisIndex:xM,z:5,symbol:'none',silent:true,clip:true,
    lineStyle:{color:'#FF1A1A',width:1},data:[[p.xr[0],p.xr[0]],[p.xr[1],p.xr[1]]]});
});
echarts.init(document.getElementById('c'),null,{renderer:'canvas'}).setOption(opt);
</script>
</body></html>
